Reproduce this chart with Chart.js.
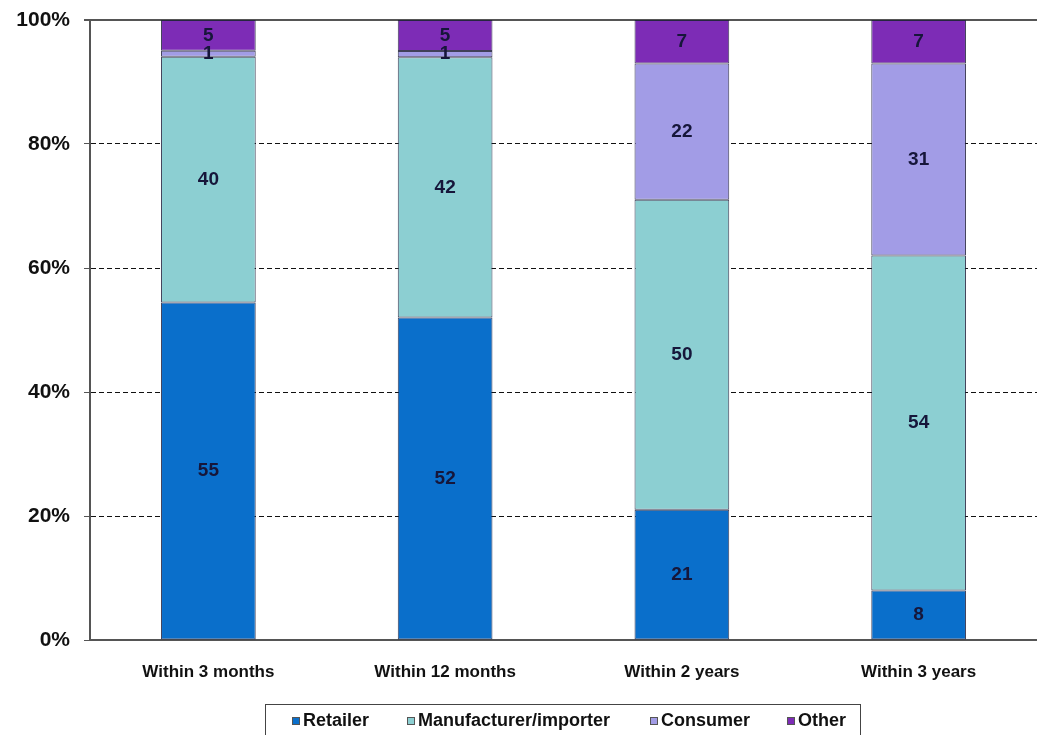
<!DOCTYPE html>
<html>
<head>
<meta charset="utf-8">
<script src="https://cdn.jsdelivr.net/npm/chart.js@4.4.0/dist/chart.umd.min.js"></script>
<style>
  html, body { margin: 0; padding: 0; background: #fff; }
  #wrap { width: 1037px; height: 735px; position: relative; }
</style>
</head>
<body>
<div id="wrap"><canvas id="chart" width="1037" height="735"></canvas></div>
<script>
// values (percent of respondents)
const categories = ['Within 3 months', 'Within 12 months', 'Within 2 years', 'Within 3 years'];
const retailer = [55, 52, 21, 8];
const manufacturer = [40, 42, 50, 54];
const consumer = [1, 1, 22, 31];
const other = [5, 5, 7, 7];
const yTicks = [0, 20, 40, 60, 80, 100];

const seriesNames = ['Retailer', 'Manufacturer/importer', 'Consumer', 'Other'];
const seriesColors = ['#0a6fcb', '#8ccfd2', '#a29ce6', '#7d2cb6'];
const raw = [retailer, manufacturer, consumer, other];

// 100% stacked: share of each column total
const totals = categories.map((_, i) => raw.reduce((s, arr) => s + arr[i], 0));
const datasets = raw.map((arr, k) => ({
  label: seriesNames[k],
  data: arr.map((v, i) => v / totals[i] * 100),
  rawValues: arr,
  backgroundColor: seriesColors[k],
  borderColor: 'rgba(30,30,60,0.85)',
  borderWidth: 1,
  borderSkipped: false,
  barPercentage: 0.4,
  categoryPercentage: 1
}));

const barLabels = {
  id: 'barLabels',
  afterDatasetsDraw(chart) {
    const ctx = chart.ctx;
    ctx.save();
    ctx.font = 'bold 19px "Liberation Sans", Arial, sans-serif';
    ctx.fillStyle = '#16163a';
    ctx.textAlign = 'center';
    ctx.textBaseline = 'middle';
    chart.data.datasets.forEach((ds, di) => {
      chart.getDatasetMeta(di).data.forEach((bar, i) => {
        const mid = (bar.y + bar.base) / 2;
        ctx.fillText(String(ds.rawValues[i]), bar.x, mid);
      });
    });
    ctx.restore();
  }
};

const boxLegend = {
  id: 'boxLegend',
  afterDraw(chart) {
    const ctx = chart.ctx;
    ctx.save();
    ctx.strokeStyle = '#444';
    ctx.lineWidth = 1;
    ctx.strokeRect(265.5, 704.5, 595, 40);
    ctx.font = 'bold 18px "Liberation Sans", Arial, sans-serif';
    ctx.textBaseline = 'middle';
    ctx.textAlign = 'left';
    const starts = [292, 407, 650, 787];
    chart.data.datasets.forEach((ds, k) => {
      const x = starts[k];
      ctx.fillStyle = ds.backgroundColor;
      ctx.fillRect(x, 717, 8, 8);
      ctx.strokeStyle = '#555';
      ctx.strokeRect(x + 0.5, 717.5, 7, 7);
      ctx.fillStyle = '#111';
      ctx.fillText(ds.label, x + 11, 721);
    });
    ctx.restore();
  }
};

new Chart(document.getElementById('chart'), {
  type: 'bar',
  data: { labels: categories, datasets },
  options: {
    responsive: false,
    animation: false,
    layout: { padding: { top: 20, left: 0, right: 0, bottom: 0 } },
    plugins: { legend: { display: false }, tooltip: { enabled: false } },
    scales: {
      x: {
        stacked: true,
        grid: { display: false, drawTicks: false },
        border: { display: true, color: '#555', width: 2 },
        ticks: {
          padding: 22,
          color: '#111',
          font: { family: '"Liberation Sans", Arial, sans-serif', size: 17, weight: 'bold' }
        },
        afterFit(scale) {
          scale.height = 95;
          scale.paddingLeft = 0;
          scale.paddingRight = 0;
        }
      },
      y: {
        stacked: true,
        min: 0,
        max: 100,
        afterBuildTicks(scale) { scale.ticks = yTicks.map(v => ({ value: v })); },
        grid: {
          color: ctx => (ctx.tick && (ctx.tick.value === 100 || ctx.tick.value === 0)) ? '#555' : '#111',
          lineWidth: ctx => (ctx.tick && ctx.tick.value === 100) ? 2 : 1,
          tickColor: '#555',
          tickLength: 6
        },
        border: {
          display: true,
          color: '#555',
          width: 2,
          dash: ctx => (ctx.tick && (ctx.tick.value === 100 || ctx.tick.value === 0)) ? [] : [5, 3]
        },
        ticks: {
          padding: 14,
          color: '#111',
          font: { family: '"Liberation Sans", Arial, sans-serif', size: 21, weight: 'bold' },
          callback: v => v + '%'
        },
        afterFit(scale) {
          scale.width = 90;
          scale.paddingTop = 0;
          scale.paddingBottom = 0;
        }
      }
    }
  },
  plugins: [barLabels, boxLegend]
});
</script>
</body>
</html>
